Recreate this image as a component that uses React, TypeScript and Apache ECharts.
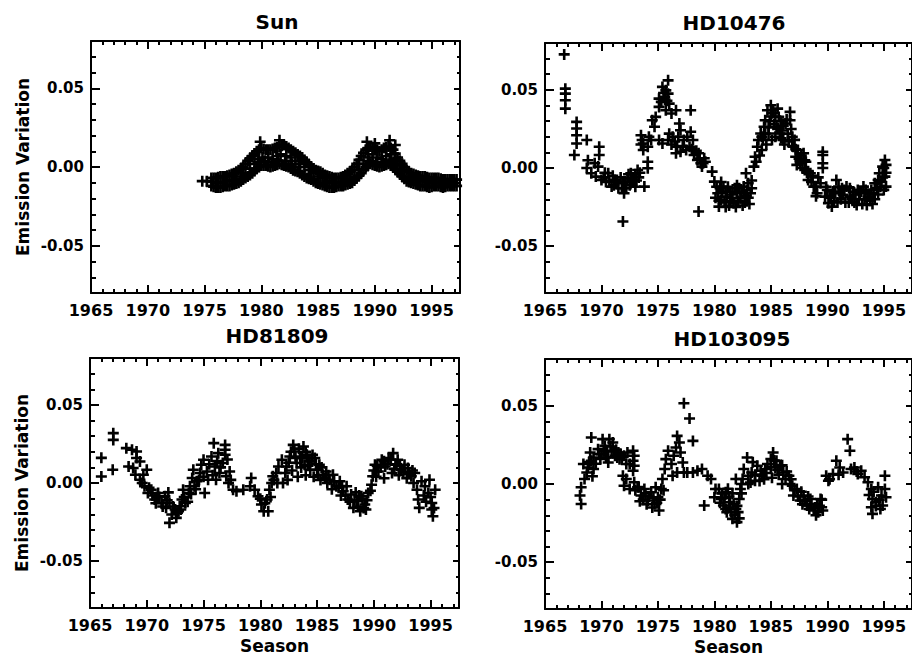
import React, { useEffect, useRef } from "react";
import * as echarts from "echarts";

const FONT = "DejaVu Sans";
const X_MIN = 1965;
const X_MAX = 1997.5;
const Y_MIN = -0.08;
const Y_MAX = 0.08;

const xMajorTicks = [1965, 1970, 1975, 1980, 1985, 1990, 1995];
const xMinorTicks = [1966, 1967, 1968, 1969, 1971, 1972, 1973, 1974, 1976, 1977, 1978, 1979, 1981, 1982, 1983, 1984, 1986, 1987, 1988, 1989, 1991, 1992, 1993, 1994, 1996, 1997];
const yMajorTicks = [-0.05, 0, 0.05];
const yMinorTicks = [-0.07, -0.06, -0.04, -0.03, -0.02, -0.01, 0.01, 0.02, 0.03, 0.04, 0.06, 0.07];

const panelTitles = ["Sun", "HD10476", "HD81809", "HD103095"];
const yAxisTitle = "Emission Variation";
const xAxisTitle = "Season";

const sunData = [
  [1974.8, -0.009], [1975.2, -0.009],
  [1975.6, -0.012], [1975.7, -0.0095], [1975.6, -0.007],
  [1976.0, -0.013], [1976.2, -0.010], [1976.0, -0.007],
  [1976.4, -0.013], [1976.6, -0.0095], [1976.4, -0.006],
  [1976.8, -0.012], [1977.0, -0.009], [1976.8, -0.006],
  [1977.2, -0.012], [1977.4, -0.0085], [1977.2, -0.005],
  [1977.6, -0.011], [1977.8, -0.0075], [1977.6, -0.004],
  [1978.0, -0.010], [1978.2, -0.006], [1978.0, -0.002],
  [1978.4, -0.008], [1978.6, -0.004], [1978.4, 0.000],
  [1978.8, -0.006], [1979.0, -0.001], [1978.8, 0.004],
  [1979.2, -0.004], [1979.4, 0.002], [1979.2, 0.007],
  [1979.6, -0.001], [1979.8, 0.005], [1979.6, 0.010],
  [1980.0, 0.001], [1980.1, 0.006], [1980.0, 0.012], [1979.9, 0.016],
  [1980.4, 0.001], [1980.6, 0.006], [1980.4, 0.011],
  [1980.8, 0.000], [1981.0, 0.005], [1980.8, 0.011],
  [1981.2, 0.001], [1981.4, 0.007], [1981.2, 0.012],
  [1981.6, 0.002], [1981.7, 0.008], [1981.6, 0.013], [1981.6, 0.017],
  [1982.0, 0.001], [1982.2, 0.007], [1982.0, 0.014],
  [1982.4, 0.000], [1982.6, 0.006], [1982.4, 0.012],
  [1982.8, -0.002], [1983.0, 0.004], [1982.8, 0.010],
  [1983.2, -0.003], [1983.4, 0.002], [1983.2, 0.008],
  [1983.6, -0.005], [1983.8, 0.000], [1983.6, 0.006],
  [1984.0, -0.007], [1984.2, -0.002], [1984.0, 0.003],
  [1984.4, -0.008], [1984.6, -0.004], [1984.4, 0.000],
  [1984.8, -0.010], [1985.0, -0.006], [1984.8, -0.002],
  [1985.2, -0.011], [1985.4, -0.007], [1985.2, -0.003],
  [1985.6, -0.012], [1985.8, -0.009], [1985.6, -0.005],
  [1986.0, -0.013], [1986.2, -0.010], [1986.0, -0.006],
  [1986.4, -0.013], [1986.6, -0.010], [1986.4, -0.007],
  [1986.8, -0.012], [1987.0, -0.0095], [1986.8, -0.007],
  [1987.2, -0.012], [1987.4, -0.009], [1987.2, -0.006],
  [1987.6, -0.011], [1987.8, -0.0075], [1987.6, -0.004],
  [1988.0, -0.010], [1988.2, -0.006], [1988.0, -0.002],
  [1988.4, -0.007], [1988.6, -0.002], [1988.4, 0.002],
  [1988.8, -0.004], [1989.0, 0.002], [1988.8, 0.007],
  [1989.2, 0.000], [1989.4, 0.006], [1989.2, 0.011], [1989.3, 0.016],
  [1989.6, 0.002], [1989.8, 0.008], [1989.6, 0.013],
  [1990.0, 0.001], [1990.2, 0.006], [1990.0, 0.012], [1990.0, 0.015],
  [1990.4, 0.000], [1990.6, 0.005], [1990.4, 0.010],
  [1990.8, 0.001], [1991.0, 0.007], [1990.8, 0.012],
  [1991.2, 0.002], [1991.4, 0.008], [1991.2, 0.013], [1991.3, 0.017],
  [1991.6, 0.000], [1991.8, 0.005], [1991.6, 0.011], [1991.8, 0.014],
  [1992.0, -0.003], [1992.2, 0.001], [1992.0, 0.006],
  [1992.4, -0.006], [1992.6, -0.002], [1992.4, 0.002],
  [1992.8, -0.009], [1993.0, -0.006], [1992.8, -0.002],
  [1993.2, -0.010], [1993.4, -0.007], [1993.2, -0.004],
  [1993.6, -0.011], [1993.8, -0.008], [1993.6, -0.005],
  [1994.0, -0.012], [1994.2, -0.009], [1994.0, -0.006],
  [1994.4, -0.012], [1994.6, -0.009], [1994.4, -0.006],
  [1994.8, -0.013], [1995.0, -0.010], [1994.8, -0.007],
  [1995.2, -0.012], [1995.4, -0.0095], [1995.2, -0.007],
  [1995.6, -0.012], [1995.8, -0.010], [1995.6, -0.007],
  [1996.0, -0.013], [1996.2, -0.010], [1996.0, -0.008],
  [1996.4, -0.012], [1996.6, -0.010], [1996.4, -0.008],
  [1996.8, -0.012], [1997.0, -0.010], [1996.8, -0.008],
  [1997.2, -0.012], [1997.2, -0.008],
  [1975.8, -0.0125], [1975.8, -0.007], [1976.2, -0.013], [1976.2, -0.0065], [1976.6, -0.0125], [1976.6, -0.006],
  [1977.0, -0.012], [1977.0, -0.0055], [1977.4, -0.0115], [1977.4, -0.0045], [1977.8, -0.0105], [1977.8, -0.003],
  [1978.2, -0.009], [1978.2, -0.001], [1978.6, -0.007], [1978.6, 0.002], [1979.0, -0.005], [1979.0, 0.0055],
  [1979.4, -0.0025], [1979.4, 0.0085], [1979.8, 0.000], [1979.8, 0.011], [1980.2, 0.001], [1980.2, 0.0115],
  [1980.6, 0.0005], [1980.6, 0.011], [1981.0, 0.0005], [1981.0, 0.0115], [1981.4, 0.0015], [1981.4, 0.0125],
  [1981.8, 0.0015], [1981.8, 0.0135], [1982.2, 0.0005], [1982.2, 0.013], [1982.6, -0.001], [1982.6, 0.011],
  [1983.0, -0.0025], [1983.0, 0.009], [1983.4, -0.004], [1983.4, 0.007], [1983.8, -0.006], [1983.8, 0.0045],
  [1984.2, -0.0075], [1984.2, 0.0015], [1984.6, -0.009], [1984.6, -0.001], [1985.0, -0.0105], [1985.0, -0.0025],
  [1985.4, -0.0115], [1985.4, -0.004], [1985.8, -0.0125], [1985.8, -0.0055], [1986.2, -0.013], [1986.2, -0.0065],
  [1986.6, -0.0125], [1986.6, -0.007], [1987.0, -0.012], [1987.0, -0.0065], [1987.4, -0.0115], [1987.4, -0.005],
  [1987.8, -0.0105], [1987.8, -0.003], [1988.2, -0.0085], [1988.2, 0.000], [1988.6, -0.0055], [1988.6, 0.0045],
  [1989.0, -0.002], [1989.0, 0.009], [1989.4, 0.001], [1989.4, 0.012], [1989.8, 0.0015], [1989.8, 0.0125],
  [1990.2, 0.0005], [1990.2, 0.011], [1990.6, 0.0005], [1990.6, 0.011], [1991.0, 0.0015], [1991.0, 0.0125],
  [1991.4, 0.001], [1991.4, 0.012], [1991.8, -0.0015], [1991.8, 0.0085], [1992.2, -0.0045], [1992.2, 0.004],
  [1992.6, -0.0075], [1992.6, 0.000], [1993.0, -0.0095], [1993.0, -0.003], [1993.4, -0.0105], [1993.4, -0.0045],
  [1993.8, -0.0115], [1993.8, -0.0055], [1994.2, -0.012], [1994.2, -0.006], [1994.6, -0.0125], [1994.6, -0.0065],
  [1995.0, -0.0125], [1995.0, -0.007], [1995.4, -0.012], [1995.4, -0.007], [1995.8, -0.0125], [1995.8, -0.0075],
  [1996.2, -0.0125], [1996.2, -0.008], [1996.6, -0.012], [1996.6, -0.008], [1997.0, -0.012], [1997.0, -0.008],
  [1979.7, 0.003], [1980.3, 0.004], [1980.9, 0.003], [1981.5, 0.004], [1982.1, 0.004], [1982.7, 0.002],
  [1989.5, 0.004], [1990.1, 0.003], [1990.7, 0.003], [1991.3, 0.004], [1991.9, 0.002], [1983.3, 0.0],
];

const hd10476Data = [
  [1966.7, 0.0727],
  [1966.8, 0.0508], [1966.8, 0.0476], [1966.8, 0.0434], [1966.8, 0.038],
  [1967.6, 0.0083], [1967.8, 0.0295], [1967.8, 0.0253], [1967.8, 0.021], [1967.8, 0.0157],
  [1968.7, 0.0179], [1968.8, 0.005], [1968.7, 0.0], [1969.1, -0.0034],
  [1969.8, 0.0136], [1969.8, 0.0083], [1969.7, 0.0009], [1970.0, -0.0077], [1969.5, -0.0055], [1969.4, 0.003],
  [1970.6, -0.0034], [1970.9, -0.0119], [1971.2, -0.0077], [1971.5, -0.013], [1971.9, -0.0098], [1972.0, -0.0162],
  [1972.3, -0.0066], [1972.6, -0.0034], [1972.9, -0.0077], [1973.2, -0.0013], [1973.0, -0.004], [1970.4, -0.009],
  [1971.0, -0.005], [1971.7, -0.006], [1972.5, -0.011], [1973.3, -0.006], [1970.2, -0.006], [1972.2, -0.013],
  [1970.3, -0.003], [1970.7, -0.008], [1971.1, -0.011], [1971.4, -0.009], [1971.8, -0.013], [1972.1, -0.009],
  [1972.4, -0.004], [1972.7, -0.008], [1973.1, -0.008], [1973.4, -0.003], [1973.0, -0.012],
  [1971.9, -0.0342], [1973.8, -0.0119],
  [1974.1, -0.0002], [1974.1, 0.004],
  [1973.5, 0.021], [1973.6, 0.0179], [1973.7, 0.0157], [1974.1, 0.0136], [1974.4, 0.0179], [1973.7, 0.0115],
  [1974.2, 0.02], [1973.5, 0.015],
  [1974.5, 0.0306], [1974.8, 0.0327], [1974.7, 0.0264], [1975.1, 0.0391], [1975.1, 0.0444],
  [1975.4, 0.0519], [1975.7, 0.0497], [1975.9, 0.0561], [1975.6, 0.0455], [1976.0, 0.0412], [1975.7, 0.037],
  [1975.3, 0.0423], [1975.9, 0.0476], [1976.2, 0.0349], [1975.5, 0.048], [1975.8, 0.043],
  [1976.6, 0.037], [1977.9, 0.037],
  [1975.1, 0.0179], [1975.4, 0.0157], [1975.9, 0.0179], [1976.3, 0.02], [1976.7, 0.0136], [1976.9, 0.0285],
  [1977.0, 0.0242], [1977.3, 0.0179], [1977.5, 0.0115], [1977.9, 0.0232], [1978.1, 0.0179], [1977.8, 0.0136],
  [1978.2, 0.0083], [1978.5, 0.0051], [1978.8, 0.003], [1979.1, 0.0062], [1978.6, 0.0094], [1978.9, 0.0009],
  [1976.6, 0.0094], [1977.0, 0.0104], [1976.0, 0.022], [1976.5, 0.017],
  [1976.2, 0.015], [1976.8, 0.02], [1977.2, 0.014], [1977.6, 0.02], [1978.0, 0.012], [1978.4, 0.011],
  [1978.7, 0.006], [1979.0, 0.003], [1979.2, 0.004],
  [1978.6, -0.0278],
  [1979.8, -0.0023], [1980.0, -0.0087], [1980.3, -0.0162], [1980.4, -0.0247], [1980.6, -0.0204], [1980.8, -0.0119],
  [1981.1, -0.0183], [1981.4, -0.0151], [1981.7, -0.0225], [1982.0, -0.0162], [1982.3, -0.0193], [1982.6, -0.0119],
  [1982.8, -0.0034], [1983.0, -0.0098], [1983.2, -0.0162], [1983.3, -0.013],
  [1980.5, -0.013], [1980.9, -0.022], [1981.2, -0.012], [1981.5, -0.019], [1981.8, -0.013], [1982.1, -0.021],
  [1982.4, -0.015], [1982.7, -0.022], [1983.0, -0.019], [1980.2, -0.012], [1981.0, -0.025], [1982.9, -0.014],
  [1980.1, -0.019], [1980.4, -0.021], [1980.7, -0.016], [1981.0, -0.015], [1981.3, -0.024], [1981.6, -0.017],
  [1981.9, -0.025], [1982.2, -0.013], [1982.5, -0.024], [1982.8, -0.018], [1983.1, -0.023], [1983.3, -0.008],
  [1980.6, -0.009], [1981.4, -0.021], [1982.0, -0.011], [1982.6, -0.016],
  [1983.5, 0.0009], [1983.6, 0.0072], [1983.8, 0.0136], [1983.9, 0.0179], [1984.1, 0.0221], [1984.2, 0.0115],
  [1984.4, 0.0264], [1984.5, 0.0306], [1984.7, 0.037], [1985.0, 0.0402], [1985.2, 0.037], [1984.8, 0.0221],
  [1985.1, 0.0179], [1985.5, 0.0264], [1985.7, 0.0327], [1985.8, 0.0221], [1986.1, 0.0179], [1986.3, 0.0285],
  [1986.7, 0.0359], [1986.7, 0.0306], [1986.9, 0.02], [1987.0, 0.0136], [1987.2, 0.0072], [1987.4, 0.0115],
  [1987.6, 0.003], [1987.9, 0.0094], [1988.0, -0.0013], [1988.3, -0.0077], [1988.5, -0.0034], [1988.8, -0.0119],
  [1989.1, -0.0162], [1989.4, -0.0098],
  [1983.7, 0.004], [1984.0, 0.008], [1984.3, 0.018], [1984.6, 0.015], [1984.9, 0.03], [1985.3, 0.028],
  [1985.4, 0.02], [1985.9, 0.03], [1986.0, 0.024], [1986.2, 0.015], [1986.5, 0.022], [1986.8, 0.025],
  [1987.1, 0.018], [1987.3, 0.002], [1987.7, 0.008], [1988.1, 0.004], [1988.2, -0.003], [1988.6, -0.009],
  [1989.0, -0.012], [1985.0, 0.033], [1985.6, 0.038],
  [1984.2, 0.02], [1984.5, 0.022], [1984.8, 0.026], [1985.1, 0.035], [1985.4, 0.033], [1985.6, 0.025],
  [1985.9, 0.019], [1986.1, 0.027], [1986.4, 0.031], [1986.6, 0.017], [1986.9, 0.014], [1987.2, 0.012],
  [1987.5, 0.006], [1987.8, 0.0], [1988.0, 0.005], [1988.3, -0.002], [1988.7, -0.005], [1989.0, -0.018],
  [1989.2, -0.006],
  [1989.6, 0.0083], [1989.6, 0.0104], [1989.6, 0.003], [1989.6, 0.0],
  [1989.8, -0.0183], [1990.1, -0.0225], [1990.4, -0.0247], [1990.7, -0.0162], [1990.8, -0.0077], [1991.0, -0.0119],
  [1991.4, -0.0172], [1991.7, -0.0119], [1992.0, -0.0183], [1992.3, -0.0151], [1992.6, -0.0236], [1992.9, -0.0162],
  [1993.2, -0.0119], [1993.5, -0.0236], [1993.6, -0.0183], [1993.9, -0.014], [1994.2, -0.0098], [1994.5, -0.0077],
  [1994.6, -0.0034], [1994.9, 0.0009], [1995.1, 0.0051], [1995.1, -0.0055], [1995.2, -0.0119],
  [1990.0, -0.014], [1990.3, -0.018], [1990.6, -0.021], [1991.2, -0.02], [1991.5, -0.014], [1991.9, -0.022],
  [1992.2, -0.02], [1992.5, -0.017], [1992.8, -0.02], [1993.0, -0.015], [1993.3, -0.02], [1993.8, -0.021],
  [1994.1, -0.016], [1994.4, -0.013], [1994.8, -0.009], [1995.0, 0.0], [1995.2, 0.002], [1991.1, -0.016],
  [1994.0, -0.023],
  [1989.9, -0.012], [1990.2, -0.019], [1990.5, -0.015], [1990.9, -0.022], [1991.3, -0.013], [1991.6, -0.022],
  [1992.0, -0.013], [1992.4, -0.022], [1992.7, -0.014], [1993.1, -0.023], [1993.4, -0.014], [1993.7, -0.017],
  [1994.2, -0.02], [1994.5, -0.017], [1994.7, -0.012], [1994.9, -0.006], [1995.0, -0.014], [1995.2, -0.003],
];

const hd81809Data = [
  [1966.0, 0.0161], [1966.0, 0.0042], [1967.0, 0.0085], [1967.05, 0.0319], [1967.05, 0.0276],
  [1968.2, 0.0223], [1968.7, 0.0213], [1969.1, 0.0202], [1969.1, 0.016], [1968.4, 0.0106], [1968.8, 0.0096],
  [1969.4, 0.0138], [1970.0, 0.0085], [1969.0, 0.0053], [1969.4, 0.0021], [1969.7, 0.0053],
  [1969.8, -0.0021], [1970.1, -0.0064], [1970.4, -0.0043], [1970.7, -0.0106], [1971.0, -0.0064], [1971.3, -0.0128],
  [1971.6, -0.0085], [1971.7, -0.0159], [1972.0, -0.0128], [1972.2, -0.0202], [1972.5, -0.017], [1972.0, -0.0255],
  [1972.6, -0.0223], [1972.9, -0.0149], [1973.1, -0.0106], [1973.2, -0.0043], [1973.4, -0.0128], [1973.7, -0.0064],
  [1973.8, -0.0021], [1974.0, 0.0032], [1974.1, 0.0085], [1974.4, 0.0011], [1974.7, 0.0064], [1974.8, 0.0117],
  [1975.0, 0.0149], [1975.1, -0.0064], [1975.3, 0.0074], [1975.4, 0.0021], [1975.7, 0.017], [1975.9, 0.0255],
  [1976.0, 0.0106], [1976.1, 0.0021], [1976.3, 0.0191], [1976.4, 0.0064], [1976.9, 0.0244], [1976.9, 0.0213],
  [1976.9, 0.0181], [1976.7, 0.0128], [1977.0, 0.0043], [1977.2, 0.0], [1977.3, 0.0074], [1977.6, -0.0043],
  [1977.9, -0.0053], [1978.5, -0.0043], [1979.1, -0.0021], [1979.2, 0.0032], [1979.5, -0.0043], [1979.8, -0.0085],
  [1980.1, -0.0138], [1980.3, -0.0181], [1980.7, -0.0181], [1980.6, -0.0106], [1980.8, -0.0043], [1981.0, 0.0],
  [1981.1, 0.0043], [1981.4, 0.0064], [1981.6, 0.0106], [1981.9, 0.0149], [1982.0, 0.0], [1982.2, 0.0064],
  [1982.3, 0.0106], [1982.6, 0.017], [1982.9, 0.0244], [1983.0, 0.0202], [1983.2, 0.0128], [1983.5, 0.017],
  [1983.8, 0.0234], [1983.9, 0.0117], [1984.1, 0.0181], [1984.4, 0.0085], [1984.5, 0.0138], [1984.8, 0.016],
  [1985.0, 0.0085], [1985.2, 0.0117], [1985.5, 0.0053], [1985.8, 0.0074], [1986.1, 0.0021], [1986.4, 0.0053],
  [1986.7, -0.0021], [1987.0, 0.0011], [1987.3, -0.0053], [1987.6, -0.0021], [1987.7, -0.0106], [1988.0, -0.0074],
  [1988.2, -0.0159], [1988.5, -0.0117], [1988.8, -0.0181], [1988.9, -0.0085], [1989.2, -0.0138], [1989.5, -0.0064],
  [1989.8, -0.0011], [1989.9, 0.0043], [1990.1, 0.0117], [1990.4, 0.0074], [1990.7, 0.0149], [1991.0, 0.0106],
  [1991.3, 0.016], [1991.6, 0.0064], [1991.7, 0.0191], [1991.9, 0.0117], [1992.1, 0.0149], [1992.4, 0.0085],
  [1992.7, 0.0117], [1993.0, 0.0096], [1993.3, 0.0043], [1993.6, 0.0064], [1993.8, -0.0043], [1993.9, -0.0106],
  [1994.0, -0.0159], [1994.2, 0.0011], [1994.5, -0.0021], [1994.8, -0.0064], [1994.9, 0.0021], [1995.1, -0.0128],
  [1995.2, -0.0213], [1995.1, -0.017], [1995.4, -0.0043],
  [1982.4, 0.002], [1982.8, 0.008], [1983.3, 0.004], [1983.6, 0.01], [1984.0, 0.005], [1984.3, 0.014],
  [1984.7, 0.004], [1985.3, 0.002], [1985.9, 0.0], [1986.3, -0.004], [1987.1, -0.008], [1988.4, -0.006],
  [1988.6, -0.015], [1989.0, -0.01], [1989.3, -0.017], [1990.2, 0.004], [1990.9, 0.003], [1992.2, 0.005],
  [1992.9, 0.003], [1993.5, 0.0], [1970.9, -0.009], [1971.9, -0.006], [1972.8, -0.018], [1974.3, -0.004],
  [1982.5, 0.013], [1982.7, 0.02], [1983.1, 0.016], [1983.4, 0.022], [1983.7, 0.016], [1984.0, 0.02],
  [1984.2, 0.011], [1984.6, 0.018], [1984.9, 0.012], [1985.1, 0.005], [1985.4, 0.01], [1985.7, 0.003],
  [1986.0, 0.005], [1986.5, 0.001], [1986.9, -0.003], [1987.2, -0.002], [1987.5, -0.008], [1987.9, -0.012],
  [1988.3, -0.011], [1988.7, -0.008], [1989.1, -0.016], [1989.4, -0.011], [1989.7, -0.005], [1990.0, 0.008],
  [1990.3, 0.011], [1990.6, 0.01], [1990.9, 0.014], [1991.2, 0.012], [1991.5, 0.015], [1991.8, 0.009],
  [1992.0, 0.012], [1992.3, 0.011], [1992.6, 0.007], [1993.1, 0.006], [1993.4, 0.008], [1994.4, -0.008],
  [1994.6, -0.012], [1995.0, -0.009], [1995.3, -0.016],
  [1969.6, 0.0], [1970.2, -0.003], [1970.5, -0.008], [1970.8, -0.013], [1971.1, -0.009], [1971.4, -0.015],
  [1971.8, -0.011], [1972.3, -0.015], [1972.7, -0.019], [1973.0, -0.017], [1973.3, -0.009], [1973.6, -0.012],
  [1973.9, -0.007], [1974.2, -0.002], [1974.6, 0.002], [1975.0, 0.004], [1975.5, 0.012], [1975.8, 0.005],
  [1976.2, 0.014], [1976.5, 0.01], [1977.1, 0.015], [1977.4, 0.002],
  [1980.0, -0.01], [1980.4, -0.013], [1980.9, -0.009], [1981.2, 0.002], [1981.5, 0.0],
];

const hd103095Data = [
  [1968.1, -0.0074], [1968.2, -0.0128], [1968.2, -0.0021], [1968.5, 0.0032], [1968.4, 0.0128], [1968.8, 0.0106],
  [1969.1, 0.0149], [1969.0, 0.0202], [1969.1, 0.0298], [1968.7, 0.0074], [1969.3, 0.0096],
  [1969.7, 0.0223], [1970.0, 0.0191], [1970.3, 0.0244], [1970.4, 0.017], [1970.7, 0.0287], [1970.9, 0.0213],
  [1971.2, 0.0181], [1971.0, 0.0266], [1971.5, 0.0202], [1971.6, 0.0159], [1970.1, 0.0287], [1970.6, 0.0138],
  [1969.9, 0.016], [1970.5, 0.021], [1971.3, 0.022], [1971.8, 0.017],
  [1969.8, 0.019], [1970.2, 0.021], [1970.6, 0.017], [1970.8, 0.024], [1971.1, 0.021], [1971.4, 0.017],
  [1971.7, 0.019], [1969.5, 0.013], [1969.3, 0.017], [1969.2, 0.005], [1968.9, 0.014],
  [1972.0, 0.0181], [1972.3, 0.0202], [1972.8, 0.0213], [1972.9, 0.0181], [1972.8, 0.0149], [1972.9, 0.0117],
  [1972.8, 0.0085], [1972.5, 0.0128], [1972.2, 0.0128],
  [1971.9, 0.0053], [1972.0, -0.0011], [1972.2, 0.0032], [1972.5, -0.0032], [1972.9, 0.0011], [1973.2, -0.0021],
  [1973.5, -0.0074], [1973.8, -0.0032], [1974.1, -0.0106], [1974.4, -0.0053], [1974.7, -0.0128], [1975.0, -0.0085],
  [1975.1, -0.017], [1975.3, -0.0032], [1974.8, -0.0021], [1974.0, -0.013], [1973.4, -0.011], [1974.5, -0.015],
  [1973.0, -0.004], [1973.3, -0.002], [1973.7, -0.01], [1974.2, -0.008], [1974.6, -0.009], [1974.9, -0.012],
  [1975.2, -0.01], [1975.5, -0.004], [1973.9, -0.006],
  [1975.4, 0.0032], [1975.6, 0.0096], [1975.7, 0.0159], [1975.9, 0.0213], [1976.2, 0.0128], [1976.3, 0.0053],
  [1976.4, 0.0181], [1976.6, 0.0234], [1976.7, 0.0308], [1976.9, 0.0266], [1977.0, 0.0202], [1977.2, 0.0138],
  [1977.3, 0.0517], [1977.8, 0.0419], [1978.1, 0.0276],
  [1976.7, 0.0074], [1977.3, 0.0074], [1977.6, 0.0074], [1978.1, 0.0074], [1978.5, 0.0085], [1978.9, 0.0096],
  [1979.4, 0.0053],
  [1979.1, -0.0138], [1980.0, -0.0085], [1979.7, 0.0032], [1980.1, -0.0032],
  [1980.4, -0.0032], [1980.6, -0.0096], [1980.8, -0.0138], [1981.0, -0.0053], [1981.1, -0.0181], [1981.4, -0.0117],
  [1981.6, -0.0223], [1981.9, -0.016], [1982.0, -0.0244], [1982.2, -0.0096], [1982.3, -0.0032], [1981.9, 0.0032],
  [1982.5, 0.0032], [1982.6, 0.0096], [1982.9, 0.017], [1983.0, 0.0053], [1983.3, 0.0074], [1983.6, 0.0021],
  [1983.8, 0.0117], [1984.1, 0.0085], [1984.2, 0.0053], [1984.5, 0.0096], [1984.7, 0.0128], [1985.0, 0.016],
  [1985.2, 0.0202], [1985.4, 0.0106], [1985.5, 0.0149], [1985.8, 0.0117], [1986.1, 0.0074], [1986.3, 0.0032],
  [1986.6, 0.0053], [1986.9, -0.0011], [1987.0, -0.0074], [1987.3, -0.0032], [1987.6, -0.0106], [1987.9, -0.0074],
  [1988.2, -0.0138], [1988.5, -0.0096], [1988.8, -0.017], [1989.1, -0.0128], [1989.2, -0.0181], [1989.4, -0.0096],
  [1989.5, -0.0149],
  [1980.9, -0.009], [1981.3, -0.015], [1981.7, -0.013], [1982.1, -0.018], [1981.2, -0.003], [1982.4, 0.0],
  [1983.2, 0.001], [1984.4, 0.003], [1985.1, 0.004], [1985.7, 0.006], [1986.0, 0.0], [1986.8, 0.003],
  [1987.8, -0.013], [1988.4, -0.016], [1989.0, -0.02], [1983.4, 0.014],
  [1980.7, -0.006], [1981.0, -0.016], [1981.3, -0.008], [1981.5, -0.018], [1981.8, -0.02], [1982.0, -0.014],
  [1982.2, -0.022], [1981.6, -0.006], [1982.4, -0.006], [1980.5, -0.012],
  [1983.0, 0.0], [1983.6, 0.006], [1984.0, 0.002], [1984.6, 0.007], [1985.0, 0.011], [1985.3, 0.015],
  [1985.6, 0.009], [1986.0, 0.012], [1986.4, 0.008], [1986.7, 0.0], [1987.1, -0.004], [1987.4, -0.008],
  [1987.7, -0.005], [1988.0, -0.011], [1988.3, -0.008], [1988.6, -0.013], [1988.9, -0.015], [1989.3, -0.014],
  [1989.6, -0.017], [1989.5, -0.01],
  [1989.9, 0.0053], [1990.1, 0.0021], [1990.5, 0.0064], [1990.8, 0.0149], [1991.1, 0.0106], [1991.4, 0.0074],
  [1991.8, 0.0287], [1992.0, 0.0213], [1992.1, 0.0096], [1992.4, 0.0106], [1992.7, 0.0064], [1993.0, 0.0085],
  [1993.3, 0.0043], [1993.6, 0.0011], [1993.9, -0.0032], [1994.0, -0.0096], [1993.9, -0.0149], [1994.0, -0.0191],
  [1994.3, -0.0117], [1994.5, -0.0021], [1994.8, -0.0074], [1994.9, -0.0138], [1995.1, -0.0032], [1995.1, 0.0053],
  [1995.2, -0.0085], [1990.2, 0.003], [1991.0, 0.006], [1992.6, 0.008],
  [1993.7, -0.007], [1994.1, -0.005], [1994.3, -0.014], [1994.6, -0.01], [1994.7, -0.016],
];

const panelData = [sunData, hd10476Data, hd81809Data, hd103095Data];

const PLUS = "path://M4.2,0h2.6v4.2h4.2v2.6h-4.2v4.2h-2.6v-4.2h-4.2v-2.6h4.2z";

export default function App() {
  const ref = useRef<HTMLDivElement>(null);
  useEffect(() => {
    if (!ref.current) return;
    const chart = echarts.init(ref.current, null, { renderer: "svg" });
    const grids = [
      { left: 91, top: 41, width: 369, height: 252 },
      { left: 545, top: 43, width: 369, height: 250 },
      { left: 90, top: 358, width: 369, height: 250 },
      { left: 545, top: 359, width: 369, height: 250 },
    ];
    const lineS = { color: "#000", width: 2 };
    const textS = { color: "#000", fontFamily: FONT, fontWeight: "bold" as const };
    const xAxes: any[] = [];
    const yAxes: any[] = [];
    grids.forEach((_, g) => {
      const xb = { gridIndex: g, type: "value", min: X_MIN, max: X_MAX, splitLine: { show: false } };
      xAxes.push(
        {
          ...xb,
          position: "bottom",
          axisLine: { show: true, onZero: false, lineStyle: lineS },
          axisTick: { show: true, inside: true, length: 8, customValues: xMajorTicks, lineStyle: lineS },
          axisLabel: { show: true, customValues: xMajorTicks, margin: 9, fontSize: 16, ...textS, formatter: (v: number) => String(v) },
          name: g >= 2 ? xAxisTitle : "",
          nameLocation: "middle",
          nameGap: 29,
          nameTextStyle: { fontSize: 17, ...textS },
        },
        {
          ...xb,
          position: "bottom",
          axisLine: { show: false, onZero: false },
          axisTick: { show: true, inside: true, length: 4, customValues: xMinorTicks, lineStyle: lineS },
          axisLabel: { show: false },
        },
        {
          ...xb,
          position: "top",
          axisLine: { show: true, onZero: false, lineStyle: lineS },
          axisTick: { show: true, inside: true, length: 8, customValues: xMajorTicks, lineStyle: lineS },
          axisLabel: { show: false },
        },
        {
          ...xb,
          position: "top",
          axisLine: { show: false, onZero: false },
          axisTick: { show: true, inside: true, length: 4, customValues: xMinorTicks, lineStyle: lineS },
          axisLabel: { show: false },
        }
      );
      const yb = { gridIndex: g, type: "value", min: Y_MIN, max: Y_MAX, splitLine: { show: false } };
      yAxes.push(
        {
          ...yb,
          position: "left",
          axisLine: { show: true, onZero: false, lineStyle: lineS },
          axisTick: { show: true, inside: true, length: 9, customValues: yMajorTicks, lineStyle: lineS },
          axisLabel: { show: true, customValues: yMajorTicks, margin: 7, fontSize: 15, ...textS, formatter: (v: number) => v.toFixed(2) },
          name: g % 2 === 0 ? yAxisTitle : "",
          nameLocation: "middle",
          nameGap: 60,
          nameTextStyle: { fontSize: 17, ...textS },
        },
        {
          ...yb,
          position: "left",
          axisLine: { show: false, onZero: false },
          axisTick: { show: true, inside: true, length: 5, customValues: yMinorTicks, lineStyle: lineS },
          axisLabel: { show: false },
        },
        {
          ...yb,
          position: "right",
          axisLine: { show: true, onZero: false, lineStyle: lineS },
          axisTick: { show: true, inside: true, length: 6, customValues: yMajorTicks, lineStyle: lineS },
          axisLabel: { show: false },
        },
        {
          ...yb,
          position: "right",
          axisLine: { show: false, onZero: false },
          axisTick: { show: true, inside: true, length: 3, customValues: yMinorTicks, lineStyle: lineS },
          axisLabel: { show: false },
        }
      );
    });
    const titlePos = [
      [277, 22],
      [734, 23],
      [277, 336],
      [732, 339],
    ];
    chart.setOption({
      animation: false,
      backgroundColor: "#fff",
      grid: grids,
      xAxis: xAxes,
      yAxis: yAxes,
      graphic: panelTitles.map((t, i) => ({
        type: "text",
        x: titlePos[i][0],
        y: titlePos[i][1],
        silent: true,
        style: {
          text: t,
          align: "center",
          verticalAlign: "middle",
          fontSize: 20,
          fontWeight: "bold",
          fontFamily: FONT,
          fill: "#000",
        },
      })),
      series: panelData.map((d, i) => ({
        type: "scatter",
        xAxisIndex: i * 4,
        yAxisIndex: i * 4,
        data: d,
        symbol: PLUS,
        symbolSize: 11,
        silent: true,
        itemStyle: { color: "#000", opacity: 1 },
      })),
    });
    return () => chart.dispose();
  }, []);
  return (
    <div
      ref={ref}
      style={{ position: "fixed", left: 0, top: 0, width: 912, height: 657, background: "#fff" }}
    />
  );
}
